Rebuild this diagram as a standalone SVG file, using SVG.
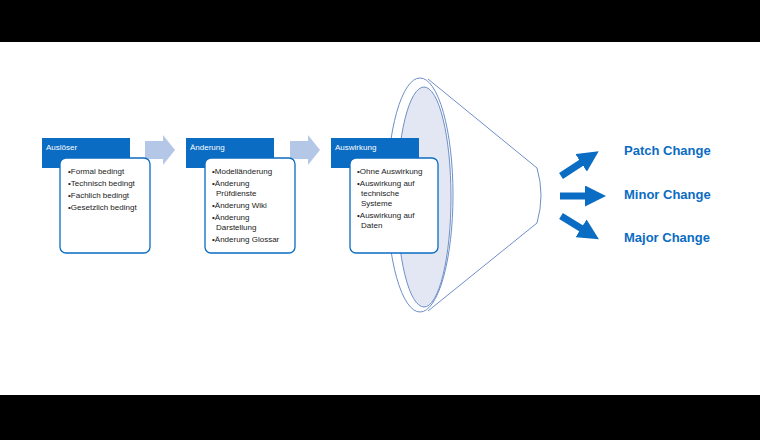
<svg xmlns="http://www.w3.org/2000/svg" width="760" height="440" viewBox="0 0 760 440">
<style>
.hd{fill:#0a6cc2}
.hdt{font-family:"Liberation Sans",sans-serif;font-size:8px;fill:#fff}
.bd{fill:#fff;stroke:#0a6cc2;stroke-width:1.3}
.bt{font-family:"Liberation Sans",sans-serif;font-size:8px;fill:#222}
.big{font-family:"Liberation Sans",sans-serif;font-size:13px;font-weight:bold;fill:#0a6cc2}
.fl{fill:#b4c7e7}
.out{stroke:#0a6cc2;stroke-width:7;fill:none}
</style>
<defs><marker id="ah" markerWidth="3" markerHeight="3" refX="1" refY="1.5" orient="auto"><path d="M0,0 L3,1.5 L0,3z" fill="#0a6cc2"/></marker></defs>
<rect width="760" height="42" fill="#000"/>
<rect y="395" width="760" height="45" fill="#000"/>
<g id="funnel" fill="none" stroke="#6f8fc8" stroke-width="1">
<path d="M428,79 L537,168 Q545,195 537,223 L428,311" fill="#fff"/>
<ellipse cx="420" cy="195" rx="33" ry="117" fill="#fff"/>
<ellipse cx="424" cy="197" rx="27" ry="110" fill="#e3e7f3"/>
</g>
<g id="connectors">
<path class="fl" d="M145,141 h18 v-6 l12,15 l-12,15 v-6 h-18z"/>
<path class="fl" d="M290,141 h18 v-6 l12,15 l-12,15 v-6 h-18z"/>
<line class="out" x1="561" y1="176" x2="587" y2="159" marker-end="url(#ah)"/>
<line class="out" x1="560" y1="196" x2="592" y2="196" marker-end="url(#ah)"/>
<line class="out" x1="561" y1="216" x2="587" y2="232" marker-end="url(#ah)"/>
</g>
<g id="ausloeser">
<rect class="hd" x="42" y="138" width="88" height="30"/>
<text class="hdt" x="46" y="150">Auslöser</text>
<rect class="bd" x="60" y="158" width="90" height="95" rx="6"/>
<text class="bt" x="68" y="174">•Formal bedingt</text>
<text class="bt" x="68" y="186">•Technisch bedingt</text>
<text class="bt" x="68" y="198">•Fachlich bedingt</text>
<text class="bt" x="68" y="210">•Gesetzlich bedingt</text>
</g>
<g id="aenderung">
<rect class="hd" x="186" y="138" width="88" height="30"/>
<text class="hdt" x="190" y="150">Änderung</text>
<rect class="bd" x="205" y="158" width="90" height="95" rx="6"/>
<text class="bt" x="212" y="174">•Modelländerung</text>
<text class="bt" x="212" y="186">•Änderung</text>
<text class="bt" x="216" y="196">Prüfdienste</text>
<text class="bt" x="212" y="208">•Änderung Wiki</text>
<text class="bt" x="212" y="220">•Änderung</text>
<text class="bt" x="216" y="230">Darstellung</text>
<text class="bt" x="212" y="242">•Änderung Glossar</text>
</g>
<g id="auswirkung">
<rect class="hd" x="331" y="138" width="88" height="30"/>
<text class="hdt" x="335" y="150">Auswirkung</text>
<rect class="bd" x="350" y="158" width="88" height="95" rx="6"/>
<text class="bt" x="357" y="174">•Ohne Auswirkung</text>
<text class="bt" x="357" y="186">•Auswirkung auf</text>
<text class="bt" x="361" y="196">technische</text>
<text class="bt" x="361" y="206">Systeme</text>
<text class="bt" x="357" y="218">•Auswirkung auf</text>
<text class="bt" x="361" y="228">Daten</text>
</g>
<g id="results">
<text class="big" x="624" y="155">Patch Change</text>
<text class="big" x="624" y="199">Minor Change</text>
<text class="big" x="624" y="242">Major Change</text>
</g>
</svg>
